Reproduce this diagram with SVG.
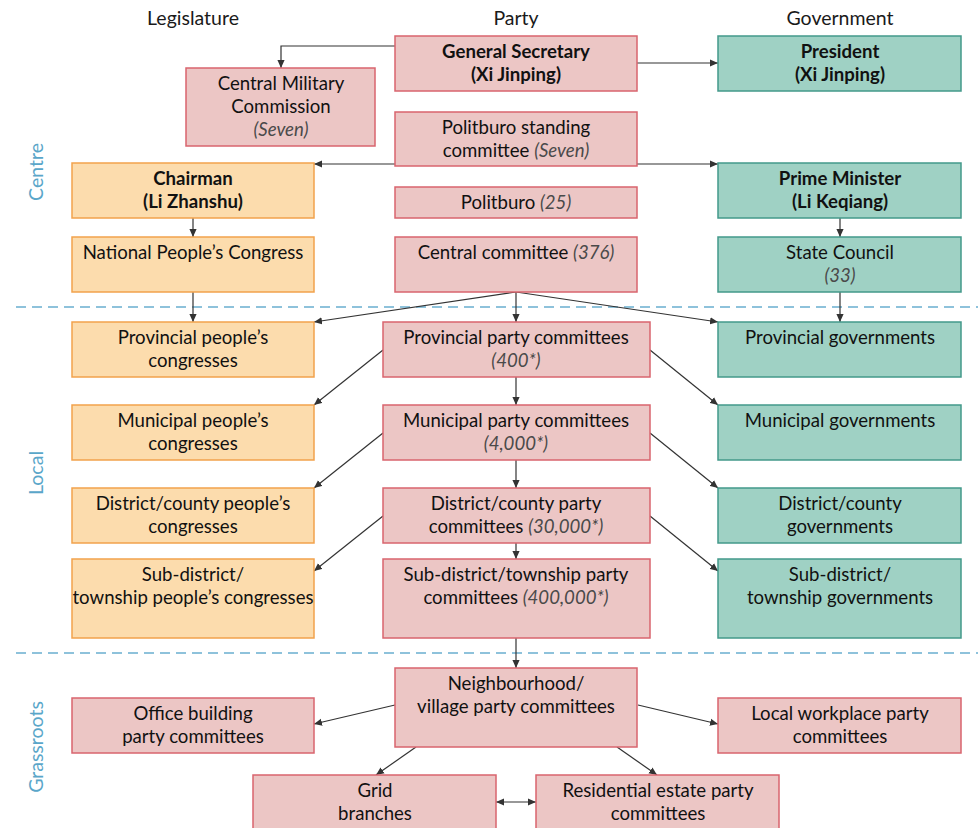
<svg xmlns="http://www.w3.org/2000/svg" width="978" height="828" viewBox="0 0 978 828">
<defs>
<marker id="ah" viewBox="0 0 10 10" refX="10" refY="5" markerWidth="8" markerHeight="8" markerUnits="userSpaceOnUse" orient="auto-start-reverse"><path d="M0,0.5 L10,5 L0,9.5 z" fill="#333"/></marker>
<style>
text{font-family:Lato,"Open Sans","Liberation Sans",sans-serif;font-size:18.6px;fill:#111;text-anchor:middle}
.h{font-size:19.5px;fill:#1a1a1a}
.b{font-weight:bold}
.i{font-style:italic;fill:#4a4a4a}
.side{fill:#5aa6c9;font-size:19.5px}
.p{fill:#ecc6c5;stroke:#d9646e;stroke-width:1.5}
.o{fill:#fcdcad;stroke:#f2a24c;stroke-width:1.5}
.t{fill:#9fd1c4;stroke:#43998a;stroke-width:1.5}
.c{fill:none;stroke:#333;stroke-width:1.2}
.d{stroke:#6aaed0;stroke-width:1.5;stroke-dasharray:10 6}
</style>
</defs>
<rect width="978" height="828" fill="#fff"/>
<text class="h" x="193" y="25">Legislature</text>
<text class="h" x="516" y="25">Party</text>
<text class="h" x="840" y="25">Government</text>
<g id="dividers">
<line class="d" x1="16" y1="307" x2="978" y2="307"/>
<line class="d" x1="16" y1="653" x2="978" y2="653"/>
</g>
<text class="side" transform="translate(43,172) rotate(-90)">Centre</text>
<text class="side" transform="translate(43,473) rotate(-90)">Local</text>
<text class="side" transform="translate(43,747) rotate(-90)">Grassroots</text>
<g id="connectors">
<path class="c" d="M395,46 H281 V68" marker-end="url(#ah)"/>
<path class="c" d="M637,63 H718" marker-end="url(#ah)"/>
<path class="c" d="M395,164 H314" marker-end="url(#ah)"/>
<path class="c" d="M637,164 H718" marker-end="url(#ah)"/>
<path class="c" d="M193,218 V237" marker-end="url(#ah)"/>
<path class="c" d="M840,218 V237" marker-end="url(#ah)"/>
<path class="c" d="M193,292 V322" marker-end="url(#ah)"/>
<path class="c" d="M840,292 V322" marker-end="url(#ah)"/>
<path class="c" d="M516,292 L314,322" marker-end="url(#ah)"/>
<path class="c" d="M516,292 V322" marker-end="url(#ah)"/>
<path class="c" d="M516,292 L718,322" marker-end="url(#ah)"/>
<path class="c" d="M383,350 L314,405" marker-end="url(#ah)"/>
<path class="c" d="M650,350 L718,405" marker-end="url(#ah)"/>
<path class="c" d="M516,377 V405" marker-end="url(#ah)"/>
<path class="c" d="M383,433 L314,488" marker-end="url(#ah)"/>
<path class="c" d="M650,433 L718,488" marker-end="url(#ah)"/>
<path class="c" d="M516,460 V488" marker-end="url(#ah)"/>
<path class="c" d="M383,516 L314,571" marker-end="url(#ah)"/>
<path class="c" d="M650,516 L718,571" marker-end="url(#ah)"/>
<path class="c" d="M516,543 V559" marker-end="url(#ah)"/>
<path class="c" d="M516,638 V668" marker-end="url(#ah)"/>
<path class="c" d="M395,705 L314,724" marker-end="url(#ah)"/>
<path class="c" d="M638,705 L718,724" marker-end="url(#ah)"/>
<path class="c" d="M416,747 L376,775" marker-end="url(#ah)"/>
<path class="c" d="M617,747 L657,775" marker-end="url(#ah)"/>
<path class="c" d="M496,802 H536" marker-start="url(#ah)" marker-end="url(#ah)"/>
</g>
<g id="gensec"><rect class="p" x="395" y="36" width="242" height="55"/><text class="b" x="516" y="58">General Secretary</text><text class="b" x="516" y="81">(Xi Jinping)</text></g>
<g id="president"><rect class="t" x="718" y="36" width="243" height="55"/><text class="b" x="840" y="58">President</text><text class="b" x="840" y="81">(Xi Jinping)</text></g>
<g id="cmc"><rect class="p" x="186" y="68" width="189" height="78"/><text x="281" y="90">Central Military</text><text x="281" y="113">Commission</text><text class="i" x="281" y="136">(Seven)</text></g>
<g id="psc"><rect class="p" x="395" y="112" width="242" height="54"/><text x="516" y="134">Politburo standing</text><text x="516" y="157">committee <tspan class="i">(Seven)</tspan></text></g>
<g id="chairman"><rect class="o" x="72" y="163" width="242" height="55"/><text class="b" x="193" y="185">Chairman</text><text class="b" x="193" y="208">(Li Zhanshu)</text></g>
<g id="pm"><rect class="t" x="718" y="163" width="243" height="55"/><text class="b" x="840" y="185">Prime Minister</text><text class="b" x="840" y="208">(Li Keqiang)</text></g>
<g id="politburo"><rect class="p" x="395" y="187" width="242" height="31"/><text x="516" y="209">Politburo <tspan class="i">(25)</tspan></text></g>
<g id="npc"><rect class="o" x="72" y="237" width="242" height="55"/><text x="193" y="259">National People’s Congress</text></g>
<g id="cc"><rect class="p" x="395" y="237" width="242" height="55"/><text x="516" y="259">Central committee <tspan class="i">(376)</tspan></text></g>
<g id="statecouncil"><rect class="t" x="718" y="237" width="243" height="55"/><text x="840" y="259">State Council</text><text class="i" x="840" y="282">(33)</text></g>
<g id="provpc"><rect class="o" x="72" y="322" width="242" height="55"/><text x="193" y="344">Provincial people’s</text><text x="193" y="367">congresses</text></g>
<g id="provparty"><rect class="p" x="383" y="322" width="267" height="55"/><text x="516" y="344">Provincial party committees</text><text class="i" x="516" y="367">(400*)</text></g>
<g id="provgov"><rect class="t" x="718" y="322" width="243" height="55"/><text x="840" y="344">Provincial governments</text></g>
<g id="munpc"><rect class="o" x="72" y="405" width="242" height="55"/><text x="193" y="427">Municipal people’s</text><text x="193" y="450">congresses</text></g>
<g id="munparty"><rect class="p" x="383" y="405" width="267" height="55"/><text x="516" y="427">Municipal party committees</text><text class="i" x="516" y="450">(4,000*)</text></g>
<g id="mungov"><rect class="t" x="718" y="405" width="243" height="55"/><text x="840" y="427">Municipal governments</text></g>
<g id="distpc"><rect class="o" x="72" y="488" width="242" height="55"/><text x="193" y="510">District/county people’s</text><text x="193" y="533">congresses</text></g>
<g id="distparty"><rect class="p" x="383" y="488" width="267" height="55"/><text x="516" y="510">District/county party</text><text x="516" y="533">committees <tspan class="i">(30,000*)</tspan></text></g>
<g id="distgov"><rect class="t" x="718" y="488" width="243" height="55"/><text x="840" y="510">District/county</text><text x="840" y="533">governments</text></g>
<g id="subpc"><rect class="o" x="72" y="559" width="242" height="79"/><text x="193" y="581">Sub-district/</text><text x="193" y="604">township people’s congresses</text></g>
<g id="subparty"><rect class="p" x="383" y="559" width="267" height="79"/><text x="516" y="581">Sub-district/township party</text><text x="516" y="604">committees <tspan class="i">(400,000*)</tspan></text></g>
<g id="subgov"><rect class="t" x="718" y="559" width="243" height="79"/><text x="840" y="581">Sub-district/</text><text x="840" y="604">township governments</text></g>
<g id="neighbourhood"><rect class="p" x="395" y="668" width="242" height="79"/><text x="516" y="690">Neighbourhood/</text><text x="516" y="713">village party committees</text></g>
<g id="office"><rect class="p" x="72" y="698" width="242" height="55"/><text x="193" y="720">Office building</text><text x="193" y="743">party committees</text></g>
<g id="workplace"><rect class="p" x="718" y="698" width="243" height="55"/><text x="840" y="720">Local workplace party</text><text x="840" y="743">committees</text></g>
<g id="grid"><rect class="p" x="253" y="775" width="243" height="60"/><text x="375" y="797">Grid</text><text x="375" y="820">branches</text></g>
<g id="residential"><rect class="p" x="536" y="775" width="243" height="60"/><text x="658" y="797">Residential estate party</text><text x="658" y="820">committees</text></g>
</svg>
